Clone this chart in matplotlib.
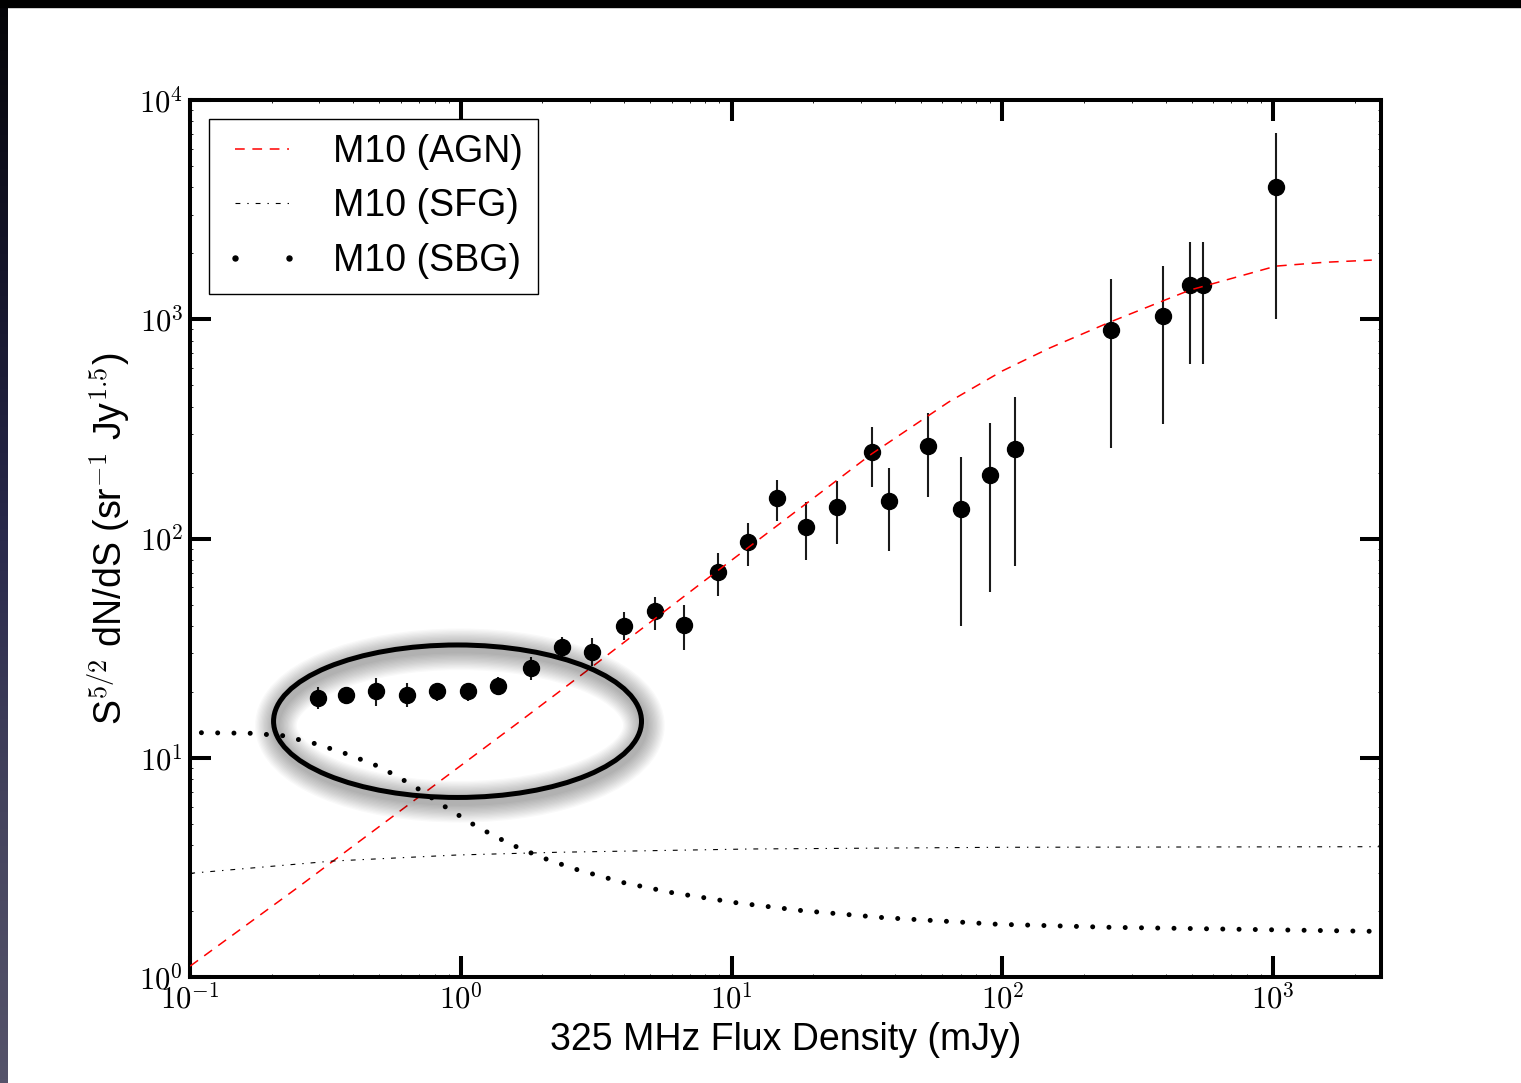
import numpy as np
import matplotlib
matplotlib.use("Agg")
import matplotlib.pyplot as plt
from matplotlib.patches import Ellipse, Rectangle
from matplotlib.lines import Line2D
from matplotlib.colors import LinearSegmentedColormap
from matplotlib.ticker import FuncFormatter, LogLocator

plt.rcParams['font.family'] = ['Liberation Sans', 'DejaVu Sans']
plt.rcParams['mathtext.fontset'] = 'cm'
plt.rcParams['lines.scale_dashes'] = False

# measured source counts (325 MHz)
flux = [0.297, 0.375, 0.487, 0.631, 0.817, 1.061, 1.373, 1.809, 2.366, 3.038,
        4.00, 5.21, 6.66, 8.87, 11.45, 14.72, 18.79, 24.4, 32.86, 37.97,
        53.0, 70.0, 89.9, 111.4, 250.7, 391.2, 493.3, 548.2, 1022]
counts = [18.84, 19.38, 20.21, 19.38, 20.21, 20.21, 21.3, 25.81, 31.98, 30.53,
          40.0, 46.8, 40.4, 70.3, 96.9, 153.8, 113.4, 139.5, 248.5, 148.6,
          263.8, 136.6, 195.8, 257.3, 894.6, 1036, 1435, 1435, 4015]
counts_lo = [16.73, 18.4, 17.27, 17.03, 18.2, 18.2, 19.38, 22.68, 27.98, 26.28,
             34.5, 38.3, 31.1, 55.0, 75.1, 120.4, 80.2, 94.3, 172.1, 87.6,
             155.0, 39.9, 56.96, 75.1, 260.0, 333.4, 626.1, 626.1, 1004]
counts_hi = [21.01, 20.4, 23.09, 21.91, 21.14, 21.14, 23.48, 28.79, 35.63, 35.26,
             46.3, 54.2, 49.8, 86.1, 118.3, 185.8, 146.6, 183.2, 324.1, 210.1,
             373.2, 235.0, 335.9, 441.4, 1528, 1752, 2254, 2254, 7079]

# M10 model curves
agn_x = [0.1, 0.2473, 1.6275, 2.944, 7.63, 32.86, 63.1, 100, 149.6, 249.2, 492.0,
         1022, 1549, 2312]
agn_y = [1.125, 2.546, 14.49, 25.19, 61.97, 243.3, 418.8, 582.1, 740.6, 971.0, 1359,
         1748, 1820, 1862]

sfg_x = [0.1, 0.3375, 0.9638, 2.256, 11.7, 97.7, 2500]
sfg_y = [2.98, 3.39, 3.61, 3.715, 3.846, 3.915, 3.94]

sbg_x = [0.11, 0.1667, 0.2196, 0.2897, 0.3816, 0.5023, 0.6632, 0.8727, 1.1487,
         1.517, 1.996, 2.636, 3.99, 6.03, 10.51, 18.28, 36.48, 95.9, 251.3, 2298]
sbg_y = [13.04, 12.96, 12.64, 11.62, 10.40, 9.10, 7.51, 6.00, 4.85,
         4.054, 3.511, 3.117, 2.701, 2.431, 2.183, 2.012, 1.870, 1.745, 1.690, 1.621]

flux = np.array(flux)
counts = np.array(counts)
yerr = [counts - np.array(counts_lo), np.array(counts_hi) - counts]

fig = plt.figure(figsize=(15.21, 10.83), dpi=100, facecolor='white')

# dark slide border
fig.add_artist(Rectangle((0, 1 - 7 / 1083), 1, 7 / 1083, transform=fig.transFigure,
                         color='black', zorder=5))
band = fig.add_axes([0, 0, 8 / 1521, 1])
cmap = LinearSegmentedColormap.from_list('band', ['#050508', '#15152a', '#2a2a4c', '#45445e', '#55536a'])
band.imshow(np.linspace(0, 1, 256).reshape(-1, 1), aspect='auto', cmap=cmap)
band.axis('off')

ax = fig.add_axes([190.2 / 1521, 1 - 977.3 / 1083, 1190.8 / 1521, 877.3 / 1083])
ax.set_xscale('log')
ax.set_yscale('log')

ax.errorbar(flux, counts, yerr=yerr, fmt='o', color='k', ecolor='#1a1a1a',
            ms=11.5, elinewidth=1.5, capsize=0, zorder=3)

ax.plot(agn_x, agn_y, color='red', lw=1.1, dashes=(7, 5.5), zorder=4)
ax.plot(sfg_x, sfg_y, color='k', lw=0.8, dashes=(3.5, 5, 1, 5), zorder=4)
ax.plot(sbg_x, sbg_y, color='k', lw=3.6, dashes=(0.01, 11.7),
        dash_capstyle='round', zorder=4)

ax.set_xlim(0.1, 2500)
ax.set_ylim(1, 1e4)

# circled faint-end points, with soft shadow
for lw in np.linspace(6, 30, 14):
    ax.add_patch(Ellipse((0.2265, 0.287), 0.309, 0.1738, transform=ax.transAxes,
                         fill=False, ec='k', lw=lw, alpha=0.022, zorder=5))
ax.add_patch(Ellipse((0.2245, 0.2919), 0.309, 0.1738, transform=ax.transAxes,
                     fill=False, ec='k', lw=3.6, zorder=6))

fmt = FuncFormatter(lambda v, p: r'$10^{%d}$' % int(round(np.log10(v))))
ax.xaxis.set_major_formatter(fmt)
ax.yaxis.set_major_formatter(fmt)
ax.xaxis.set_minor_locator(LogLocator(base=10, subs=np.arange(2, 10), numticks=20))
ax.yaxis.set_minor_locator(LogLocator(base=10, subs=np.arange(2, 10), numticks=20))
ax.tick_params(which='major', direction='in', length=15, width=2.9,
               top=True, right=True, labelsize=22)
ax.tick_params(which='minor', direction='in', length=2.5, width=0.6,
               top=True, right=True, labelleft=False, labelbottom=False)
ax.tick_params(axis='x', which='major', pad=5)
ax.tick_params(axis='y', which='major', pad=5)
for s in ax.spines.values():
    s.set_linewidth(2.9)

ax.set_xlabel('325 MHz Flux Density (mJy)', fontsize=27, labelpad=5)
ax.set_ylabel(r'S$^{5/2}$ dN/dS (sr$^{-1}$ Jy$^{1.5}$)', fontsize=27, labelpad=5)

handles = [Line2D([], [], color='red', lw=1.1, dashes=(7, 5.5)),
           Line2D([], [], color='k', lw=0.8, dashes=(3.5, 5, 1, 5)),
           Line2D([], [], color='k', ls='none', marker='o', ms=3.6)]
leg = ax.legend(handles, ['M10 (AGN)', 'M10 (SFG)', 'M10 (SBG)'], loc='upper left',
                fontsize=27, numpoints=2, handlelength=2.03, handletextpad=0.88,
                labelspacing=0.5, borderaxespad=0.5, fancybox=False, framealpha=1)
leg.get_frame().set_edgecolor('k')
leg.get_frame().set_linewidth(1.0)

fig.savefig('out.png', dpi=100, facecolor='white')
